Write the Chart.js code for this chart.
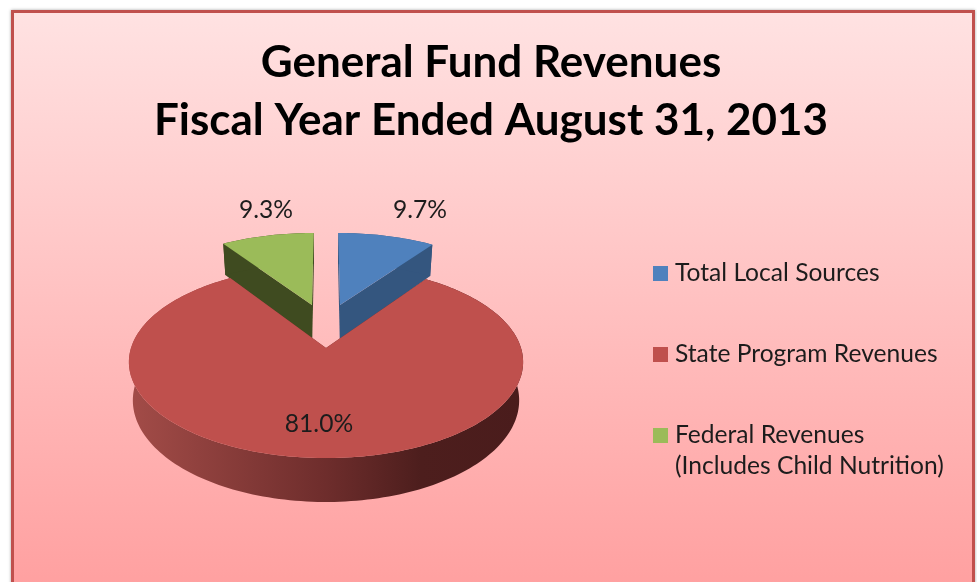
<!DOCTYPE html>
<html>
<head>
<meta charset="utf-8">
<title>General Fund Revenues</title>
<script src="https://cdn.jsdelivr.net/npm/chart.js@4"></script>
<style>
    html, body { margin: 0; padding: 0; width: 977px; height: 582px; overflow: hidden; background: #fff; }
    #card {
        position: absolute; left: 11px; top: 10px; width: 958px; height: 600px;
        border: 3px solid #c0504d;
        background: linear-gradient(to bottom, #ffe2e2 0%, #ff9d9d 100%);
        box-shadow: 0 0 3px rgba(0, 0, 0, 0.35);
    }
    #chart { position: absolute; left: 0; top: 0; filter: blur(0.5px); }
</style>
</head>
<body>
<div id="card"></div>
<canvas id="chart" width="977" height="582"></canvas>
<script>
'use strict';

// ===== データ =====

const titleLines = ['General Fund Revenues', 'Fiscal Year Ended August 31, 2013'];
const categories = ['Total Local Sources', 'State Program Revenues', ['Federal Revenues', '(Includes Child Nutrition)']];
const revenueShare = [9.7, 81.0, 9.3];

// ===== 見た目 =====

const TOP_COLORS  = ['#4f81bd', '#bf504d', '#9bbb59'];
const SIDE_COLORS = ['#34567f', null, '#3f4b20'];

const FONT_NAME = 'Lato, "Open Sans", sans-serif';

// 3D pie projection
const PIE_X = 326, PIE_Y = 348;
const RX = 195, RY = 94;
const PERSPECTIVE = 0.146;
const DEPTH = 37.5;
const DEPTH_SHRINK = 0.98;
const EXPLODE = [[0.077, -0.49], [0, 0], [-0.077, -0.49]];
const DRAW_ORDER = [0, 2, 1];

const VALUE_LABEL_POS = [[420, 210], [319, 424], [266, 210]];
const LEGEND_X = 653, LEGEND_TEXT_X = 675;
const LEGEND_Y = [273, 354, 435];
const LEGEND_LINE = 31;

function project(u, v) {
    const w = 1 - PERSPECTIVE * v;
    return { x: PIE_X + RX * u / w, y: PIE_Y + RY * v / w, w };
}

function lower(p) {
    return { x: PIE_X + (p.x - PIE_X) * DEPTH_SHRINK, y: p.y + DEPTH / p.w };
}

function tracePath(ctx, points) {
    ctx.beginPath();
    points.forEach((p, i) => (i === 0 ? ctx.moveTo(p.x, p.y) : ctx.lineTo(p.x, p.y)));
    ctx.closePath();
}

function rimPoints(arc, index) {
    const [ex, ey] = EXPLODE[index];
    const steps = Math.max(8, Math.ceil((arc.endAngle - arc.startAngle) * 40));
    const points = [];
    for (let i = 0; i <= steps; i++) {
        const a = arc.startAngle + (arc.endAngle - arc.startAngle) * i / steps;
        points.push(project(ex + Math.cos(a), ey + Math.sin(a)));
    }
    return points;
}

const pie3dPlugin = {
    id: 'pie3d',
    beforeDatasetDraw(chart) {
        const ctx = chart.ctx;
        const arcs = chart.getDatasetMeta(0).data;

        const redSide = ctx.createLinearGradient(129, 0, 523, 0);
        redSide.addColorStop(0, '#a34c48');
        redSide.addColorStop(0.5, '#6e2d2c');
        redSide.addColorStop(0.74, '#4d1e1d');
        redSide.addColorStop(1, '#4a1c1c');

        DRAW_ORDER.forEach(index => {
            const arc = arcs[index];
            const [ex, ey] = EXPLODE[index];
            const apex = project(ex, ey);
            const rim = rimPoints(arc, index);
            const side = SIDE_COLORS[index] || redSide;

            ctx.fillStyle = side;
            // 切断面
            [rim[0], rim[rim.length - 1]].forEach(p => {
                tracePath(ctx, [apex, p, lower(p), lower(apex)]);
                ctx.fill();
            });
            // 外周
            tracePath(ctx, rim.concat(rim.map(lower).reverse()));
            ctx.fill();
            // 上面
            ctx.fillStyle = TOP_COLORS[index];
            tracePath(ctx, [apex].concat(rim));
            ctx.fill();
        });
        return false;
    },
    afterDatasetsDraw(chart) {
        const ctx = chart.ctx;
        ctx.save();
        ctx.fillStyle = '#1c1c1c';
        ctx.textBaseline = 'middle';

        // 値ラベル
        ctx.font = '24.6px ' + FONT_NAME;
        ctx.textAlign = 'center';
        chart.data.datasets[0].data.forEach((v, i) => {
            const [x, y] = VALUE_LABEL_POS[i];
            ctx.fillText(v.toFixed(1) + '%', x, y);
        });

        // 凡例
        ctx.textAlign = 'left';
        chart.data.labels.forEach((label, i) => {
            ctx.fillStyle = TOP_COLORS[i];
            ctx.fillRect(LEGEND_X, LEGEND_Y[i] - 7, 15, 15);
            ctx.fillStyle = '#1c1c1c';
            [].concat(label).forEach((line, j) => {
                ctx.fillText(line, LEGEND_TEXT_X, LEGEND_Y[i] + j * LEGEND_LINE);
            });
        });
        ctx.restore();
    },
};

new Chart(document.getElementById('chart').getContext('2d'), {
    type: 'pie',
    data: {
        labels: categories,
        datasets: [{ data: revenueShare, backgroundColor: TOP_COLORS, borderWidth: 0 }],
    },
    options: {
        responsive: false,
        animation: false,
        layout: { padding: { left: 5 } },
        plugins: {
            legend: { display: false },
            tooltip: { enabled: false },
            title: {
                display: true,
                text: titleLines,
                color: '#000',
                font: { family: FONT_NAME, size: 44, weight: 'bold', lineHeight: 1.318 },
                padding: { top: 34, bottom: 10 },
            },
        },
    },
    plugins: [pie3dPlugin],
});
</script>
</body>
</html>
